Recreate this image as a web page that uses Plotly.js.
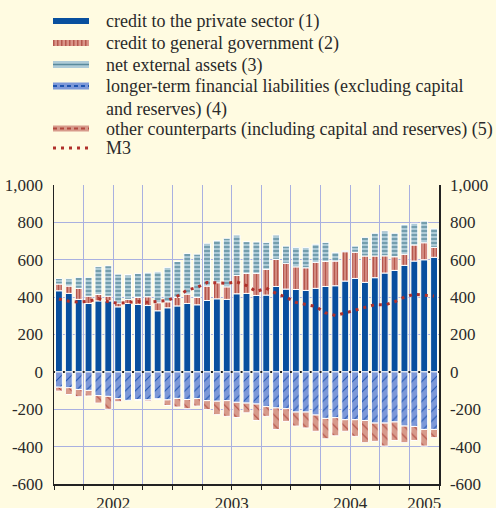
<!DOCTYPE html>
<html><head><meta charset="utf-8">
<script src="https://cdn.plot.ly/plotly-3.0.1.min.js"></script>
<style>html,body{margin:0;padding:0;background:#fffbe1}</style>
</head><body><div id="chart" style="width:496px;height:508px"></div>
<script>
const months = ['2002-01','2002-02','2002-03','2002-04','2002-05','2002-06','2002-07','2002-08','2002-09','2002-10','2002-11','2002-12',
  '2003-01','2003-02','2003-03','2003-04','2003-05','2003-06','2003-07','2003-08','2003-09','2003-10','2003-11','2003-12',
  '2004-01','2004-02','2004-03','2004-04','2004-05','2004-06','2004-07','2004-08','2004-09','2004-10','2004-11','2004-12',
  '2005-01','2005-02','2005-03'];
const yearLabels = ['2002','2003','2004','2005'];

const creditPrivate = [434,420,388,366,380,380,348,366,361,355,327,343,353,366,359,382,391,388,418,420,409,411,457,443,441,436,447,457,461,486,500,479,504,529,543,570,593,600,613];
const creditGovernment = [36,39,59,39,34,25,20,22,37,47,43,32,45,50,39,77,86,67,98,107,118,138,145,138,121,121,139,134,132,157,140,141,116,92,73,59,86,91,53];
const netExternal = [30,39,59,101,149,163,155,132,129,128,165,184,193,218,232,229,225,260,216,170,168,144,130,92,104,108,97,102,45,5,33,100,122,133,126,159,116,116,100];
const longerTerm = [-82,-85,-94,-99,-127,-131,-143,-152,-149,-150,-145,-150,-142,-148,-143,-154,-157,-154,-163,-167,-172,-186,-193,-197,-215,-215,-231,-249,-245,-256,-256,-260,-274,-274,-268,-290,-292,-308,-308];
const otherCounterparts = [-21,-36,-39,-30,-40,-69,-17,0,-1,-7,-1,-30,-46,-49,-40,-48,-72,-84,-81,-52,-88,-52,-115,-68,-75,-85,-87,-109,-97,-62,-89,-119,-98,-123,-99,-89,-75,-89,-44];
const m3 = [390,378,373,378,392,375,367,372,377,372,375,382,405,438,452,478,477,474,482,462,430,448,420,400,372,361,350,316,302,315,329,343,360,358,375,400,416,410,406];

const yTickVals = [-600,-400,-200,0,200,400,600,800,1000];
const yTickText = ['-600','-400','-200','0','200','400','600','800','1,000'];

const names = ['credit to the private sector (1)','credit to general government (2)','net external assets (3)',
  'longer-term financial liabilities (excluding capital<br>and reserves) (4)','other counterparts (including capital and reserves) (5)','M3'];

// layout geometry (pixels)
const W = 496, H = 508, ML = 54, MR = 57, MT = 185, MB = 24;
const PW = W - ML - MR, PH = H - MT - MB;
const px = v => (v - ML) / PW;
const py = v => (H - MB - v) / PH;

const x = months.map((m, i) => i);
const quarterTicks = months.map((m, i) => ['01','04','07','10'].includes(m.slice(5)) ? i - 0.5 : null).filter(v => v !== null);
quarterTicks.push(months.length - 0.5);
const yearCenters = yearLabels.map(y => {
  const idx = x.filter(i => months[i].startsWith(y));
  return idx.reduce((a, b) => a + b, 0) / idx.length;
});

const C = {
  blue:'#084f9e', redBg:'#d99488', redFg:'#b5574d', tealBg:'#aecbd7', tealFg:'#5a8a9d',
  hBlueBg:'#7c98d8', hBlueFg:'#1f55b0', hRedBg:'#d79a8b', hRedFg:'#b2483f', m3:'#b0302a'
};
const line = {color: '#ffffff', width: 1};
const traces = [
  {type:'bar', x:x, y:creditPrivate, name:names[0], marker:{color:C.blue, line:line}},
  {type:'bar', x:x, y:creditGovernment, name:names[1], marker:{color:C.redBg, line:line,
    pattern:{shape:'|', bgcolor:C.redBg, fgcolor:C.redFg, size:3, solidity:0.45}}},
  {type:'bar', x:x, y:netExternal, name:names[2], marker:{color:C.tealBg, line:line,
    pattern:{shape:'-', bgcolor:C.tealBg, fgcolor:C.tealFg, size:4, solidity:0.35}}},
  {type:'bar', x:x, y:longerTerm, name:names[3], marker:{color:C.hBlueBg, line:line,
    pattern:{shape:'/', bgcolor:C.hBlueBg, fgcolor:C.hBlueFg, size:7, solidity:0.15}}},
  {type:'bar', x:x, y:otherCounterparts, name:names[4], marker:{color:C.hRedBg, line:line,
    pattern:{shape:'\\', bgcolor:C.hRedBg, fgcolor:C.hRedFg, size:7, solidity:0.15}}},
  {type:'scatter', mode:'lines', x:x, y:m3, name:names[5], xaxis:'x2', yaxis:'y2',
    line:{color:C.m3, width:3, dash:'3px,5px'}}
];

const fam = 'Liberation Serif';
const font = {family:fam, size:17, color:'#2a2a2a'};
const grid = '#a9b0e0';

// custom legend (text as annotations, keys as shapes)
const legRows = [21, 43, 64.5, 86, 128.5, 148];
const keyX0 = 53, keyX1 = 89, textX = 104;
const annotations = names.map((n, k) => ({
  xref:'paper', yref:'paper', x:px(textX), y:py(legRows[k] - 12), xanchor:'left', yanchor:'top',
  text:n, align:'left', showarrow:false, font:{family:fam, size:18, color:'#2a2a2a'}
}));
const rect = (yc, h, color) => ({type:'rect', xref:'paper', yref:'paper', x0:px(keyX0), x1:px(keyX1),
  y0:py(yc - h/2), y1:py(yc + h/2), fillcolor:color, line:{width:0}});
const hl = (y, color, w, dash) => ({type:'line', xref:'paper', yref:'paper', x0:px(keyX0), x1:px(keyX1),
  y0:py(y), y1:py(y), line:{color:color, width:w, dash:dash || 'solid'}});
const shapes = [
  rect(legRows[0], 6, C.blue),
  rect(legRows[1], 6, C.redBg),
  hl(legRows[1], C.redFg, 6, '1.5px,2.5px'),
  rect(legRows[2], 7, C.tealBg),
  hl(legRows[2], C.tealFg, 1.5),
  rect(legRows[3], 7, C.hBlueBg),
  hl(legRows[3], C.hBlueFg, 2, '4px,3px'),
  rect(legRows[4], 6, C.hRedBg),
  hl(legRows[4], C.hRedFg, 2, '4px,3px'),
  hl(legRows[5], C.m3, 3, '3px,5px')
];

const layout = {
  width:W, height:H,
  margin:{l:ML, r:MR, t:MT, b:MB, autoexpand:false},
  paper_bgcolor:'#fffbe1', plot_bgcolor:'#fffbe1',
  barmode:'relative', bargap:0.3,
  font:font,
  showlegend:false,
  annotations:annotations,
  shapes:shapes,
  xaxis:{range:[-0.5, months.length - 0.5], tickvals:quarterTicks, showticklabels:false,
    showgrid:true, gridcolor:grid, gridwidth:1, ticks:'outside', ticklen:4, tickcolor:'#222',
    showline:true, linecolor:'#222', linewidth:1.5, zeroline:false},
  xaxis2:{range:[-0.5, months.length - 0.5], overlaying:'x', anchor:'y', side:'bottom',
    tickvals:yearCenters, ticktext:yearLabels, ticks:'', showgrid:false, showline:false, zeroline:false,
    tickfont:font, ticklabelstandoff:7},
  yaxis:{range:[-600,1000], tickvals:yTickVals, ticktext:yTickText, showgrid:true, gridcolor:grid, gridwidth:1,
    zeroline:true, zerolinecolor:'#222', zerolinewidth:1.5, showline:true, linecolor:'#222', linewidth:1.5,
    ticks:'', tickfont:font, ticklabelstandoff:6},
  yaxis2:{range:[-600,1000], tickvals:yTickVals, ticktext:yTickText, overlaying:'y', side:'right', anchor:'x',
    showgrid:false, zeroline:false, showline:true, linecolor:'#222', linewidth:1.5, ticks:'', tickfont:font, ticklabelstandoff:6}
};
Plotly.newPlot('chart', traces, layout, {staticPlot:true, displayModeBar:false});
</script></body></html>
